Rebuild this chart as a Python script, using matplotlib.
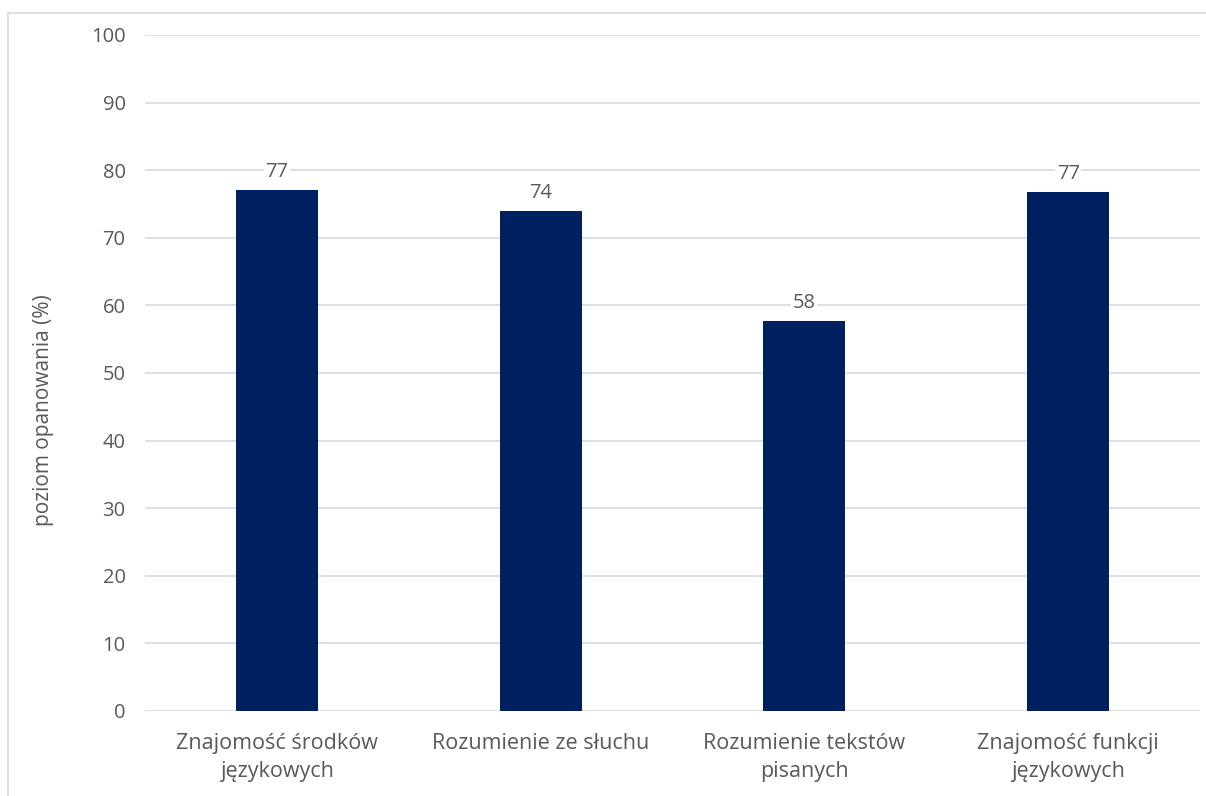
import matplotlib
matplotlib.use("Agg")
import matplotlib.pyplot as plt
from matplotlib.patches import Rectangle

categories = ["Znajomość środków\njęzykowych", "Rozumienie ze słuchu",
              "Rozumienie tekstów\npisanych", "Znajomość funkcji\njęzykowych"]
values = [77.1, 74.0, 57.7, 76.8]
labels = ["77", "74", "58", "77"]
yticks = [0, 10, 20, 30, 40, 50, 60, 70, 80, 90, 100]

plt.rcParams['font.family'] = ['Open Sans', 'DejaVu Sans']
txt = '#595959'

fig = plt.figure(figsize=(12.06, 7.96), dpi=100)
fig.patches.append(Rectangle((8/1206, -0.1), 1.2, 1 - 13/796 + 0.1, transform=fig.transFigure,
                             fill=False, edgecolor='#d9d9d9', linewidth=1.2))
ax = fig.add_axes([145/1206, 1 - 711/796, (1200-145)/1206, (711-35)/796])
x = range(len(categories))
ax.bar(x, values, width=0.31, color='#002060', zorder=3)
for xi, v, l in zip(x, values, labels):
    ax.text(xi, v + 1.2, l, ha='center', va='bottom', fontsize=14.5, color=txt, zorder=4,
            bbox=dict(facecolor='white', edgecolor='none', pad=1))
ax.set_xlim(-0.5, 3.5)
ax.set_ylim(0, 100)
ax.set_yticks(yticks)
ax.set_yticklabels([str(t) for t in yticks], fontsize=14.5, color=txt)
ax.set_xticks(list(x))
ax.set_xticklabels(categories, fontsize=15.5, color=txt, linespacing=1.45)
ax.tick_params(length=0, pad=14)
ax.tick_params(axis='x', pad=16)
ax.grid(axis='y', color='#d9d9d9', linewidth=1.2, zorder=0)
for s in ax.spines.values():
    s.set_visible(False)
fig.text(44/1206, 1 - 410/796, "poziom opanowania (%)", rotation=90, ha='center', va='center',
         fontsize=15, color=txt)
fig.savefig("out.png", dpi=100)
